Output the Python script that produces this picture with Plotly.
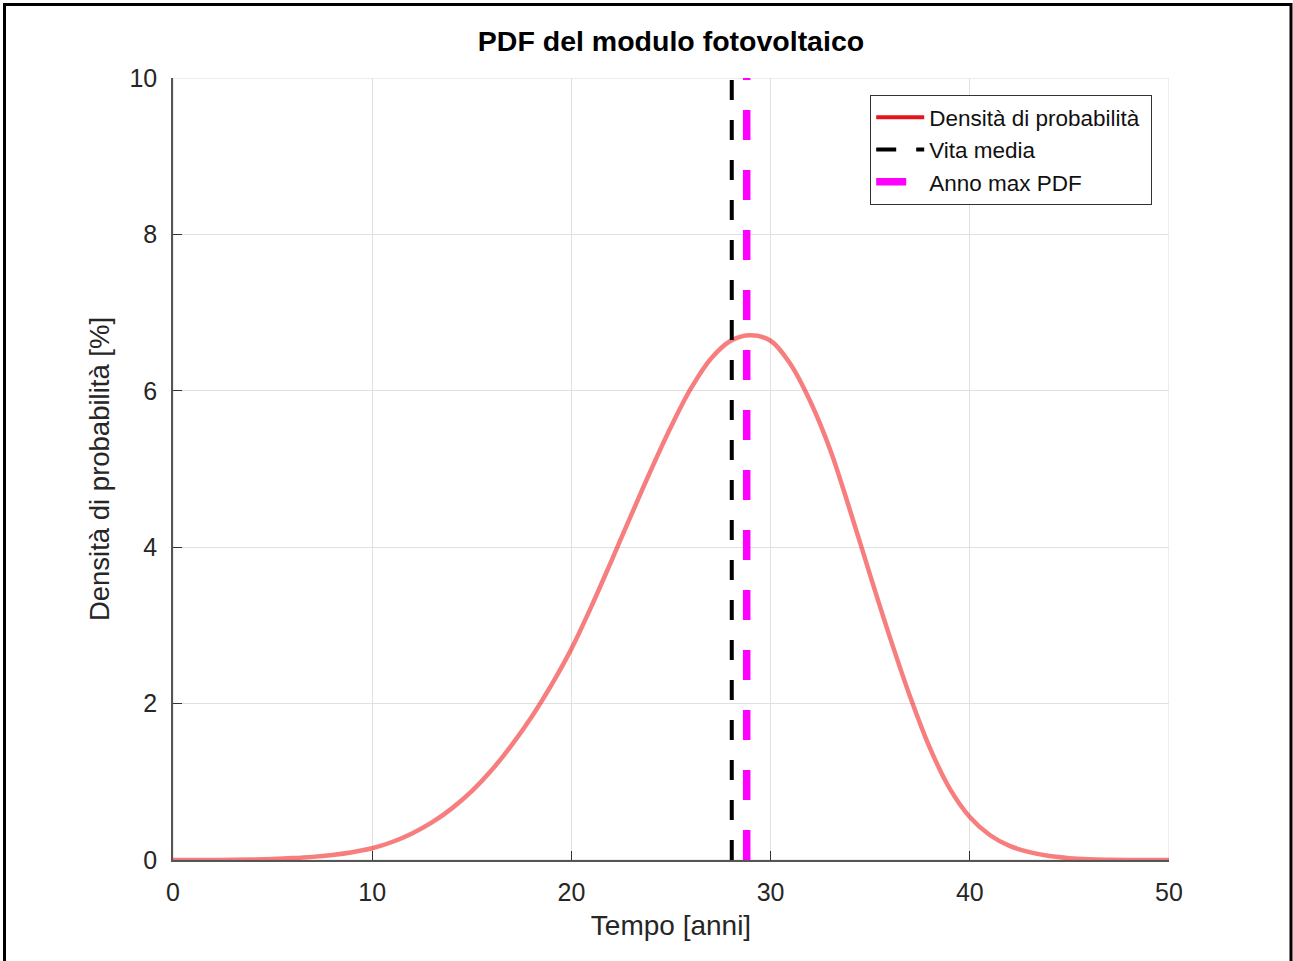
import plotly.graph_objects as go

# ---- data ----
years = list(range(0, 51))
pdf_percent = [0.0, 0.0, 0.001, 0.002, 0.006, 0.013, 0.024, 0.04, 0.065, 0.10,
               0.15, 0.23, 0.34, 0.48, 0.66, 0.88, 1.15, 1.47, 1.83, 2.24,
               2.70, 3.24, 3.82, 4.41, 4.99, 5.54, 6.03, 6.41, 6.64, 6.71,
               6.64, 6.34, 5.86, 5.24, 4.46, 3.64, 2.84, 2.09, 1.43, 0.91,
               0.55, 0.32, 0.18, 0.10, 0.05, 0.023, 0.01, 0.004, 0.001, 0.0, 0.0]
mean_life = 28.05
mode_year = 28.8
y_span = [0, 10]

x_ticks = [0, 10, 20, 30, 40, 50]
y_ticks = [0, 2, 4, 6, 8, 10]

FONT = "Liberation Sans, Arial, Helvetica, sans-serif"
TXT = "#262626"

fig = go.Figure()

# the curve (translucent red); its legend entry is drawn in solid red
fig.add_trace(go.Scatter(
    x=years, y=pdf_percent, mode="lines", line_shape="spline",
    line=dict(color="rgba(240,20,20,0.55)", width=4.5),
    showlegend=False, hoverinfo="x+y"))
fig.add_trace(go.Scatter(
    x=[None], y=[None], mode="lines", name="Densità di probabilità\u00a0",
    legendgroup="a", line=dict(color="#e8141c", width=4)))
fig.add_trace(go.Scatter(
    x=[mean_life, mean_life], y=y_span, mode="lines", name="Vita media",
    legendgroup="b", line=dict(color="black", width=4, dash="20px,20px")))
fig.add_trace(go.Scatter(
    x=[mode_year, mode_year], y=y_span, mode="lines", name="Anno max PDF",
    legendgroup="c", line=dict(color="#ff00ff", width=7.5, dash="30px,30px")))

W, H = 1293, 961
L, R, T, B = 173, 1169, 78, 860

fig.update_layout(
    width=W, height=H,
    margin=dict(l=L, r=W - R, t=T, b=H - B, autoexpand=False),
    paper_bgcolor="white", plot_bgcolor="white",
    font=dict(family=FONT, color=TXT),
    title=dict(text="<b>PDF del modulo fotovoltaico</b>",
               x=0.5 * (L + R) / W, xanchor="center",
               y=1 - 41 / H, yanchor="middle",
               font=dict(size=28.5, color="black", family=FONT)),
    legend=dict(x=(1152 - L) / (R - L), xanchor="right",
                y=(B - 95) / (B - T), yanchor="top",
                bgcolor="white", bordercolor="#333", borderwidth=1.2,
                font=dict(size=22.5, color="#111", family=FONT),
                tracegroupgap=0, itemwidth=48),
    showlegend=True,
)

# light box around the plot area (top / right edges)
fig.add_shape(type="rect", xref="x", yref="y", x0=0, x1=50, y0=0, y1=10,
              line=dict(color="#dcdcdc", width=1), layer="below")

fig.update_xaxes(
    range=[0, 50], tickvals=x_ticks, ticktext=[str(v) for v in x_ticks],
    showgrid=True, gridcolor="#e0e0e0", gridwidth=1,
    showline=True, linecolor="#555", linewidth=1.5, mirror=False,
    ticks="inside", ticklen=9, tickcolor="#333", tickwidth=1.2,
    zeroline=False, ticklabelstandoff=9,
    tickfont=dict(size=25, color=TXT, family=FONT),
    title=dict(text="Tempo [anni]", standoff=11,
               font=dict(size=28, color=TXT, family=FONT)))
fig.update_yaxes(
    range=[0, 10], tickvals=y_ticks, ticktext=[str(v) for v in y_ticks],
    showgrid=True, gridcolor="#e0e0e0", gridwidth=1,
    showline=True, linecolor="#555", linewidth=1.5, mirror=False,
    ticks="inside", ticklen=9, tickcolor="#333", tickwidth=1.2,
    zeroline=False, ticklabelstandoff=9,
    tickfont=dict(size=25, color=TXT, family=FONT),
    title=dict(text="Densità di probabilità [%]", standoff=12,
               font=dict(size=27.5, color=TXT, family=FONT)))

# outer frame around the figure (bottom edge cut off in the reference)
fig.add_shape(type="rect", xref="paper", yref="paper",
              x0=(4.5 - L) / (R - L), x1=(1291 - L) / (R - L),
              y0=(B - 1000) / (B - T), y1=(B - 4.5) / (B - T),
              line=dict(color="black", width=3), fillcolor="rgba(0,0,0,0)",
              layer="above")

fig.write_html("out.html", config={"displayModeBar": False},
               post_script="document.body.style.margin='0';")
